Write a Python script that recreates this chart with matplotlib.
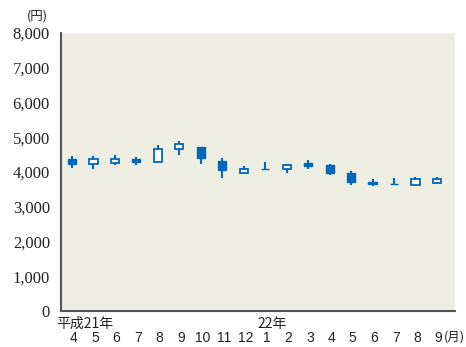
import numpy as np
import matplotlib
matplotlib.use("Agg")
import matplotlib.pyplot as plt

# 平成21年4月 - 22年9月, monthly candles (円)
months = ["4", "5", "6", "7", "8", "9", "10", "11", "12",
          "1", "2", "3", "4", "5", "6", "7", "8", "9"]
opens = [4374, 4239, 4250, 4374, 4288, 4662, 4728, 4317, 3980,
         4100, 4095, 4268, 4201, 3971, 3721, 3655, 3635, 3683]
highs = [4460, 4469, 4489, 4423, 4777, 4901, 4728, 4412, 4173,
         4296, 4239, 4354, 4230, 4029, 3799, 3836, 3856, 3865]
lows = [4106, 4078, 4201, 4210, 4288, 4498, 4230, 3836, 3942,
        4095, 3980, 4095, 3922, 3617, 3597, 3646, 3635, 3646]
closes = [4239, 4374, 4365, 4288, 4671, 4806, 4412, 4058, 4078,
          4095, 4201, 4164, 3980, 3712, 3655, 3646, 3790, 3807]
year_labels = [(0, "平成21年"), (9, "22年")]
yticks = [0, 1000, 2000, 3000, 4000, 5000, 6000, 7000, 8000]

blue = "#0068b7"
bg = "#efeee3"
sans = ["Noto Sans CJK JP", "DejaVu Sans"]

fig = plt.figure(figsize=(4.66, 3.47), dpi=100)
ax = fig.add_axes([61 / 466, 36 / 347, 394 / 466, 278 / 347])
ax.set_facecolor(bg)

x = np.arange(len(months))
o = np.array(opens)
c = np.array(closes)
up = c >= o

ax.vlines(x, lows, highs, color=blue, lw=1.5, zorder=2)
bottom = np.minimum(o, c)
height = np.abs(c - o)
ax.bar(x[up], height[up], bottom=bottom[up], width=0.38,
       facecolor="white", edgecolor=blue, lw=1.3, zorder=3)
ax.bar(x[~up], height[~up], bottom=bottom[~up], width=0.38,
       facecolor=blue, edgecolor=blue, lw=1.0, zorder=3)

ax.set_xlim(-0.51, 17.84)
ax.set_ylim(0, 8000)
ax.set_yticks(yticks)
ax.set_yticklabels([f"{v:,}" for v in yticks], family="Liberation Serif",
                   fontsize=12, color="#222222")
ax.tick_params(axis="y", length=0, pad=8)
ax.set_xticks([])

for s in ["top", "right"]:
    ax.spines[s].set_visible(False)
for s in ["left", "bottom"]:
    ax.spines[s].set_color("#555555")
    ax.spines[s].set_linewidth(1.5)

trans = ax.get_xaxis_transform()
for i, m in enumerate(months):
    ax.text(i + 0.08, -0.097, m, transform=trans, ha="center", va="center",
            family="Liberation Sans", fontsize=10, color="#222222")
for i, lab in year_labels:
    ax.text(i - 0.72 if i == 0 else i - 0.38, -0.045, lab, transform=trans,
            ha="left", va="center", family=sans, fontsize=10, color="#222222")
ax.text(17.3, -0.092, "(月)", transform=trans, ha="left", va="center",
        family=sans, fontsize=9, color="#222222")
fig.text(37 / 466, 1 - 16 / 347, "(円)", ha="center", va="center",
         family=sans, fontsize=9, color="#222222")

fig.savefig("out.png", dpi=100)
